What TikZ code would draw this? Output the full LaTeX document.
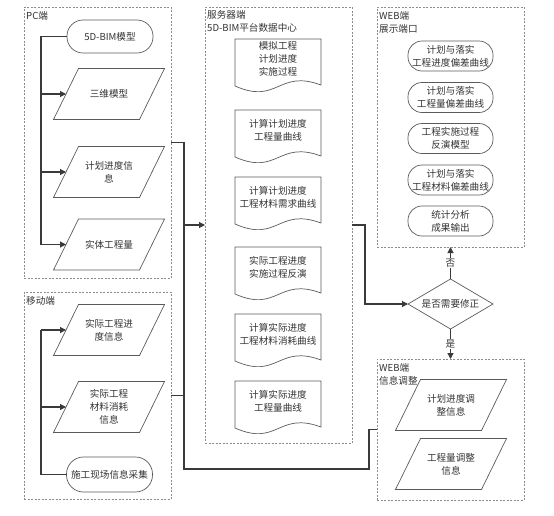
\documentclass[tikz,border=0pt]{standalone}
\usepackage{fontspec}
\newfontfamily\cjk{Noto Sans CJK SC}
\usetikzlibrary{shapes.geometric,arrows.meta,calc}
\definecolor{lineC}{HTML}{3A3A3A}
\definecolor{shapeC}{HTML}{5A5A5A}
\definecolor{groupC}{HTML}{8C8C8C}
\definecolor{textC}{HTML}{333333}
\tikzset{
  group/.style={draw=groupC, line width=0.6pt, dash pattern=on 2pt off 1.5pt, minimum width=147pt, inner sep=0pt, outer sep=0pt},
  grouplabel/.style={anchor=north west, align=left, inner sep=1pt, text=textC},
  conn/.style={draw=lineC, line width=1.1pt},
  arr/.style={conn, -{Triangle[length=6pt,width=6pt]}},
  shapeline/.style={draw=shapeC, line width=0.7pt},
  parabody/.style={minimum width=86pt, minimum height=51pt, inner sep=0pt, outer sep=0pt, align=center, text=textC},
  docbody/.style={minimum width=86pt, minimum height=40pt, inner sep=0pt, outer sep=0pt, align=center, text=textC},
  termbox/.style={shapeline, rounded corners=16pt, minimum width=86pt, minimum height=33pt, inner sep=0pt, outer sep=0pt, align=center, text=textC},
  webbox/.style={shapeline, rounded corners=14pt, minimum width=85pt, minimum height=30pt, inner sep=0pt, outer sep=0pt, align=center, text=textC},
  decision/.style={shapeline, diamond, aspect=1.7, minimum width=85pt, minimum height=50pt, inner sep=0pt, outer sep=0pt, text=textC},
  yesno/.style={fill=white, inner sep=1pt, text=textC}
}
\newcommand{\parashape}[3]{%
  \node[parabody] (#1) at (#2) {#3};
  \draw[shapeline] ($(#1.north west)+(12.5,0)$) -- ($(#1.north east)+(12.5,0)$) -- ($(#1.south east)+(-12.5,0)$) -- ($(#1.south west)+(-12.5,0)$) -- cycle;}
\newcommand{\docshape}[3]{%
  \node[docbody] (#1) at (#2) {#3};
  \draw[shapeline] (#1.north west) -- (#1.north east) -- ($(#1.south east)+(0,6)$) .. controls ($(#1.south)+(0,-10)$) and ($(#1.south)+(0,26)$) .. ($(#1.south west)+(0,7)$) -- cycle;}
\begin{document}
\begin{tikzpicture}[x=1pt,y=-1pt,font=\cjk\fontsize{9.6pt}{13.2pt}\selectfont]
\useasboundingbox (0,0) rectangle (554,515);
% group boxes
\node[group, minimum height=271pt] (pcbox) at (97.5,142.5) {};
\node[group, minimum height=207pt] (mobbox) at (97.5,395.5) {};
\node[group, minimum height=436pt] (server) at (278.5,225) {};
\node[group, minimum height=240pt] (web) at (450.5,127) {};
\node[group, minimum height=141pt] (adj) at (450.5,429.5) {};
\node[grouplabel] (pclabel) at ($(pcbox.north west)+(1,3)$) {PC端};
\node[grouplabel] (moblabel) at ($(mobbox.north west)+(1,3)$) {移动端};
\node[grouplabel] (srvlabel) at ($(server.north west)+(1,2)$) {服务器端\\5D-BIM平台数据中心};
\node[grouplabel] (weblabel) at ($(web.north west)+(1,3)$) {WEB端\\展示端口};
\node[grouplabel] (adjlabel) at ($(adj.north west)+(1,3)$) {WEB端\\信息调整};
% PC
\node[termbox] (pcT) at (110,36.5) {5D-BIM模型};
\parashape{pc1}{109,94}{三维模型}
\parashape{pc2}{109,172}{计划进度信\\息}
\parashape{pc3}{109,244.5}{实体工程量}
\coordinate (busA) at (41,0);
\draw[conn] (pcT.west) -- (pcT.west -| busA) -- (pc3.west -| busA);
\draw[arr] (pc1.west -| busA) -- (pc1.west);
\draw[arr] (pc2.west -| busA) -- (pc2.west);
\draw[arr] (pc3.west -| busA) -- (pc3.west);
% mobile
\parashape{m1}{109,330}{实际工程进\\度信息}
\parashape{m2}{109,407}{实际工程\\材料消耗\\信息}
\node[termbox, minimum height=35pt, rounded corners=17pt] (m3) at (109.5,474.5) {施工现场信息采集};
\draw[conn] (m3.west) -- (m3.west -| busA) -- (m1.west -| busA);
\draw[arr] (m1.west -| busA) -- (m1.west);
\draw[arr] (m2.west -| busA) -- (m2.west);
% server docs
\docshape{s1}{278,59}{模拟工程\\计划进度\\实施过程}
\docshape{s2}{278,130}{计算计划进度\\工程量曲线}
\docshape{s3}{278,197}{计算计划进度\\工程材料需求曲线}
\docshape{s4}{278,267}{实际工程进度\\实施过程反演}
\docshape{s5}{278,334}{计算实际进度\\工程材料消耗曲线}
\docshape{s6}{278,401}{计算实际进度\\工程量曲线}
% web display
\node[webbox] (w1) at (450.5,56) {计划与落实\\工程进度偏差曲线};
\node[webbox] (w2) at (450.5,97.5) {计划与落实\\工程量偏差曲线};
\node[webbox] (w3) at (450.5,138.5) {工程实施过程\\反演模型};
\node[webbox] (w4) at (450.5,180) {计划与落实\\工程材料偏差曲线};
\node[webbox] (w5) at (450.5,221) {统计分析\\成果输出};
% decision
\node[decision] (dia) at (450.5,304) {是否需要修正};
% adjust
\parashape{a1}{451,405}{计划进度调\\整信息}
\parashape{a2}{451,464}{工程量调整\\信息}
% connectors
\coordinate (busR) at (184,469);
\coordinate (loopR) at (369,469);
\coordinate (srvR) at (365,0);
\draw[conn] (pcbox.east) -| (busR) -- (loopR) |- (adj.west);
\draw[conn] (mobbox.east) -- (mobbox.east -| busR);
\draw[arr] (server.west -| busR) -- (server.west);
\draw[arr] (server.east) -- (server.east -| srvR) |- (dia.west);
\draw[arr] (dia.north) -- node[yesno] {否} (web.south);
\draw[arr] (dia.south) -- node[yesno] {是} (adj.north);
\end{tikzpicture}
\end{document}
